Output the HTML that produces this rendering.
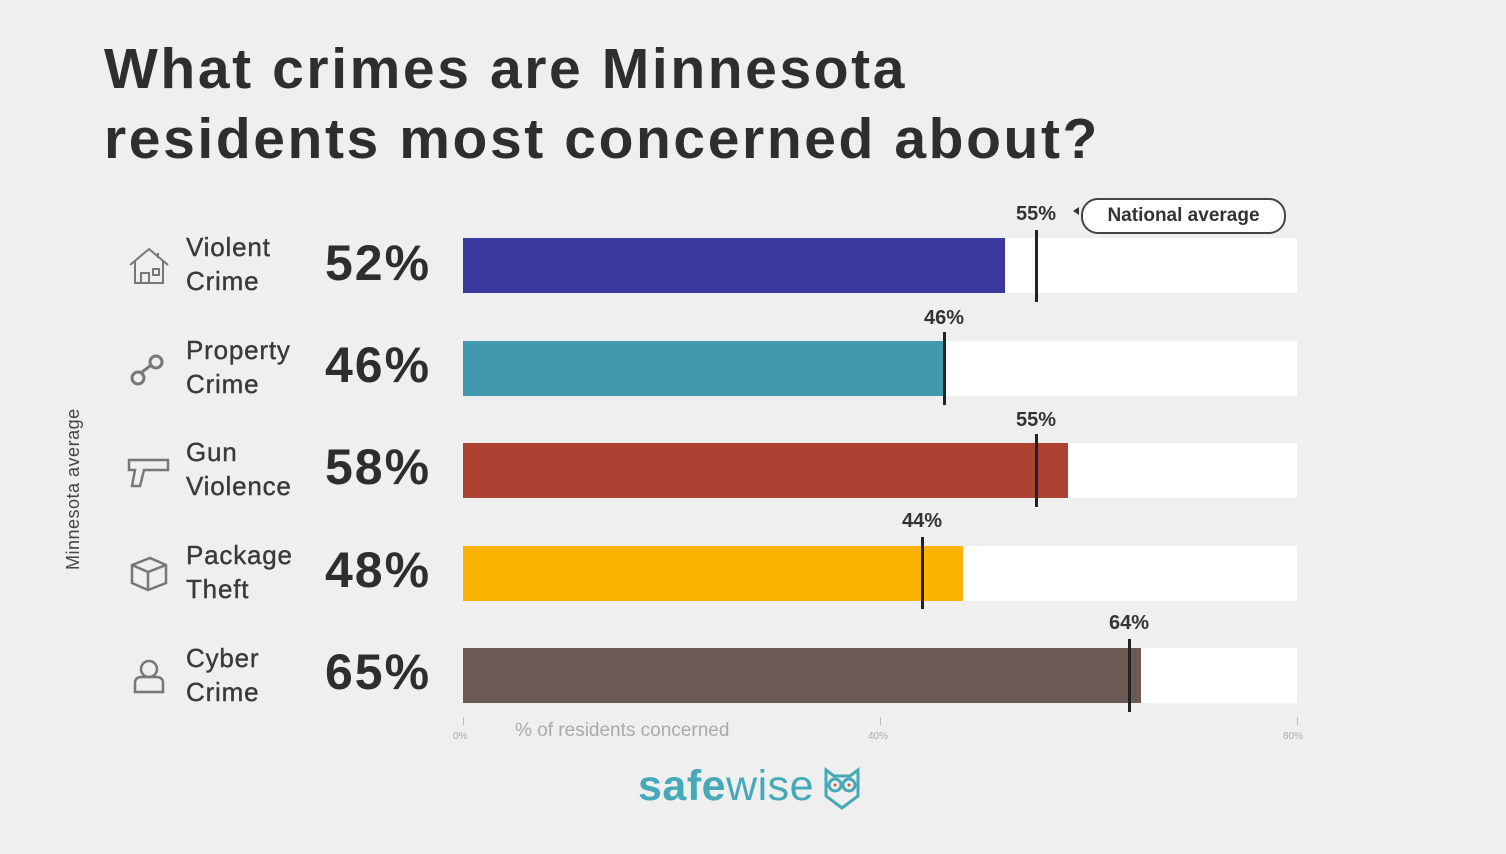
<!DOCTYPE html>
<html><head><meta charset="utf-8"><style>
body{margin:0;width:1506px;height:854px;background:#efefef;overflow:hidden;font-family:"Liberation Sans",sans-serif;position:relative;color:#333}
.a{position:absolute}
h1{position:absolute;left:104px;top:34px;margin:0;font-size:57px;line-height:70px;font-weight:bold;color:#2e2e2e;letter-spacing:2.6px}
.lab{position:absolute;left:186px;font-size:26px;line-height:34px;color:#3a3a3a;letter-spacing:0.8px;-webkit-text-stroke:0.4px #3a3a3a}
.pct{position:absolute;left:325px;font-size:50px;font-weight:bold;color:#2e2e2e;letter-spacing:2px}
.bg{position:absolute;left:463px;width:834px;height:55px;background:#fff}
.bar{position:absolute;left:463px;height:55px}
.mk{position:absolute;width:3px;background:#222}
.ml{position:absolute;font-size:20px;font-weight:bold;color:#333;width:60px;text-align:center}
.tick{position:absolute;font-size:10px;color:#aaa}
</style></head><body>
<h1>What crimes are Minnesota<br>residents most concerned about?</h1>
<div class="a" style="left:63px;top:570px;transform:rotate(-90deg);transform-origin:0 0;font-size:18px;color:#444;white-space:nowrap;letter-spacing:0.5px">Minnesota average</div>

<div class="lab" style="top:230px">Violent<br>Crime</div>
<div class="lab" style="top:333px">Property<br>Crime</div>
<div class="lab" style="top:435px">Gun<br>Violence</div>
<div class="lab" style="top:538px">Package<br>Theft</div>
<div class="lab" style="top:641px">Cyber<br>Crime</div>

<div class="pct" style="top:234px">52%</div>
<div class="pct" style="top:336px">46%</div>
<div class="pct" style="top:438px">58%</div>
<div class="pct" style="top:541px">48%</div>
<div class="pct" style="top:643px">65%</div>

<svg class="a" style="left:126px;top:245px" width="46" height="44" fill="none" stroke="#777" stroke-width="2"><path d="M4 20 L23 4 L42 20 M9 16 V38 H37 V16 M32 8 V13 M15 38 V28 H23 V38 M27 24 H33 V30 H27Z"/></svg>
<svg class="a" style="left:128px;top:350px" width="42" height="40" fill="none" stroke="#777" stroke-width="3"><circle cx="10" cy="28" r="6"/><circle cx="28" cy="12" r="6"/><path d="M14 22 L22 16"/></svg>
<svg class="a" style="left:126px;top:452px" width="46" height="40" fill="none" stroke="#777" stroke-width="2.5"><path d="M3 8 H42 V18 H18 L14 34 H6 L9 18 H3Z"/></svg>
<svg class="a" style="left:128px;top:553px" width="42" height="40" fill="none" stroke="#777" stroke-width="2.5"><path d="M4 12 L22 5 L38 12 V30 L20 37 L4 30Z M4 12 L20 19 L38 12 M20 19 V37"/></svg>
<svg class="a" style="left:130px;top:655px" width="38" height="40" fill="none" stroke="#777" stroke-width="2.5"><circle cx="19" cy="14" r="8"/><path d="M5 37 V28 Q5 22 12 22 H26 Q33 22 33 28 V37Z"/></svg>

<div class="bg" style="top:238px"></div><div class="bar" style="top:238px;width:542px;background:#3a39a0"></div>
<div class="bg" style="top:341px"></div><div class="bar" style="top:341px;width:480px;background:#3f98ae"></div>
<div class="bg" style="top:443px"></div><div class="bar" style="top:443px;width:605px;background:#ac4031"></div>
<div class="bg" style="top:546px"></div><div class="bar" style="top:546px;width:500px;background:#fbb300"></div>
<div class="bg" style="top:648px"></div><div class="bar" style="top:648px;width:678px;background:#6b5954"></div>

<div class="mk" style="left:1035px;top:230px;height:72px"></div><div class="ml" style="left:1006px;top:203px">55%</div>
<div class="mk" style="left:943px;top:332px;height:73px"></div><div class="ml" style="left:914px;top:307px">46%</div>
<div class="mk" style="left:1035px;top:434px;height:73px"></div><div class="ml" style="left:1006px;top:409px">55%</div>
<div class="mk" style="left:921px;top:537px;height:72px"></div><div class="ml" style="left:892px;top:510px">44%</div>
<div class="mk" style="left:1128px;top:639px;height:73px"></div><div class="ml" style="left:1099px;top:612px">64%</div>

<div class="a" style="left:1073px;top:207px;width:0;height:0;border-top:4px solid transparent;border-bottom:4px solid transparent;border-right:6px solid #333"></div>
<div class="a" style="left:1081px;top:198px;width:201px;height:32px;border:2px solid #444;border-radius:17px;background:#fff;font-size:19px;font-weight:bold;line-height:32px;text-align:center;color:#333">National average</div>

<div class="a" style="left:463px;top:717px;width:1px;height:8px;background:#bbb"></div>
<div class="a" style="left:880px;top:717px;width:1px;height:8px;background:#bbb"></div>
<div class="a" style="left:1297px;top:717px;width:1px;height:8px;background:#bbb"></div>
<div class="tick" style="left:453px;top:731px">0%</div>
<div class="tick" style="left:868px;top:731px">40%</div>
<div class="tick" style="left:1283px;top:731px">80%</div>
<div class="a" style="left:515px;top:720px;font-size:19px;color:#aaa">% of residents concerned</div>

<div class="a" style="left:638px;top:762px;font-size:43px;color:#45a9b8;letter-spacing:0.5px"><b>safe</b>wise</div>
<svg class="a" style="left:822px;top:766px" width="40" height="46" fill="none" stroke="#45a9b8" stroke-width="3"><path d="M4 4 L12 10 H28 L36 4 V30 L20 42 L4 30Z"/><circle cx="13" cy="19" r="6"/><circle cx="27" cy="19" r="6"/><circle cx="13" cy="19" r="1.5" fill="#d05040" stroke="none"/><circle cx="27" cy="19" r="1.5" fill="#d05040" stroke="none"/></svg>
</body></html>
